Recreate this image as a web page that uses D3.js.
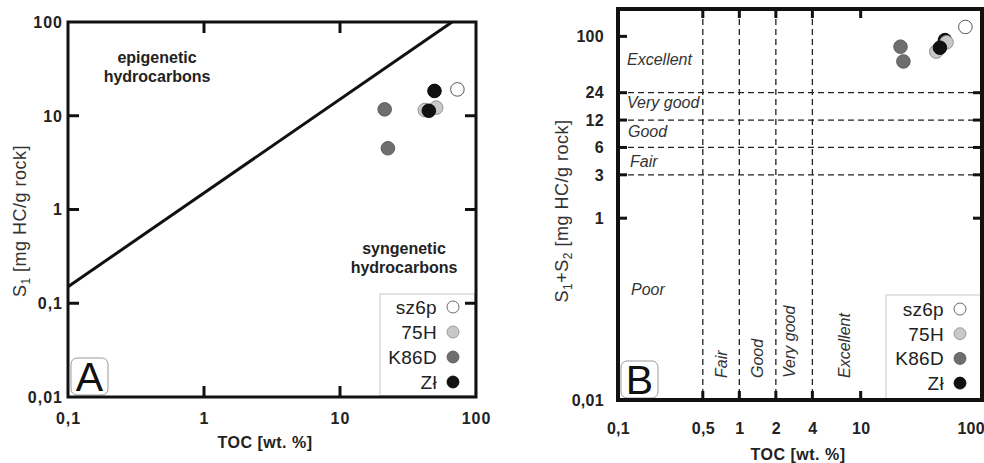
<!DOCTYPE html>
<html>
<head>
<meta charset="utf-8">
<script src="https://cdn.jsdelivr.net/npm/d3@7/dist/d3.min.js"></script>
<style>
  html, body { margin: 0; padding: 0; background: #fff; }
  svg { display: block; font-family: "Liberation Sans", Arial, sans-serif; }
</style>
</head>
<body>
<svg id="chart" width="984" height="463"></svg>
<script>
// ---- data ----
const seriesNames  = ["sz6p", "75H", "K86D", "Zł"];
const seriesFill   = ["#ffffff", "#c8c8c8", "#6e6e6e", "#111111"];
const seriesStroke = ["#444444", "#8a8a8a", "#555555", "#000000"];

// samples, in drawing order
const sampleSeries = ["sz6p", "Zł", "75H", "75H", "K86D", "K86D", "Zł"];
const sampleTOC    = [73, 49.5, 42, 51, 21.3, 22.5, 45];
const sampleS1     = [19.1, 18.4, 11.5, 12.2, 11.7, 4.5, 11.3];
const sampleS1S2   = [127, 91, 68, 86, 77, 53, 75];

// epigenetic / syngenetic boundary, S1 = 1.5 * TOC
const boundaryTOC = [0.1, 66.7];
const boundaryS1  = [0.15, 100];

// panel A axis ticks
const aXTicks = [0.1, 1, 10, 100];
const aXTickLabels = ["0,1", "1", "10", "100"];
const aYTicks = [0.01, 0.1, 1, 10, 100];
const aYTickLabels = ["0,01", "0,1", "1", "10", "100"];

// panel B axis ticks and source-rock classes
const bXTicks = [0.1, 0.5, 1, 2, 4, 10, 100];
const bXTickLabels = ["0,1", "0,5", "1", "2", "4", "10", "100"];
const bYTicks = [0.01, 1, 3, 6, 12, 24, 100];
const bYTickLabels = ["0,01", "1", "3", "6", "12", "24", "100"];
const tocLimits = [0.5, 1, 2, 4];
const hcLimits  = [3, 6, 12, 24];
const tocClassNames = ["Fair", "Good", "Very good", "Excellent"];
const hcClassNames  = ["Poor", "Fair", "Good", "Very good", "Excellent"];

// ---- drawing ----
const svg = d3.select("#chart");
const colorOf = n => seriesFill[seriesNames.indexOf(n)];
const strokeOf = n => seriesStroke[seriesNames.indexOf(n)];

function frame(g, x, y, w) {
  const [x0, x1] = x.range(), [y0, y1] = y.range();
  g.append("rect")
    .attr("x", x0).attr("y", y1).attr("width", x1 - x0).attr("height", y0 - y1)
    .attr("fill", "none").attr("stroke", "#111").attr("stroke-width", w);
}

function ticks(g, x, y, spec, len, w) {
  const [x0, x1] = x.range(), [y0, y1] = y.range();
  spec.left.forEach(v => g.append("line").attr("x1", x0).attr("x2", x0 + len)
    .attr("y1", y(v)).attr("y2", y(v)).attr("stroke", "#111").attr("stroke-width", w));
  spec.right.forEach(v => g.append("line").attr("x1", x1).attr("x2", x1 - len)
    .attr("y1", y(v)).attr("y2", y(v)).attr("stroke", "#111").attr("stroke-width", w));
  spec.top.forEach(v => g.append("line").attr("x1", x(v)).attr("x2", x(v))
    .attr("y1", y1).attr("y2", y1 + len).attr("stroke", "#111").attr("stroke-width", w));
  spec.bottom.forEach(v => g.append("line").attr("x1", x(v)).attr("x2", x(v))
    .attr("y1", y0).attr("y2", y0 - len).attr("stroke", "#111").attr("stroke-width", w));
}

function tickLabels(g, x, y, xt, xl, yt, yl, yLabelX, xLabelY, spacing) {
  const last = xt.length - 1;
  const style = sel => sel.attr("font-weight", "bold").attr("font-size", 16)
    .attr("letter-spacing", spacing).attr("fill", "#222");
  style(g.selectAll(".xl").data(xt).enter().append("text")
    .attr("x", (d, i) => i === last && x(d) > 960 ? 985 : x(d) + 0.5).attr("y", xLabelY)
    .attr("text-anchor", (d, i) => i === last && x(d) > 960 ? "end" : "middle"))
    .text((d, i) => xl[i]);
  style(g.selectAll(".yl").data(yt).enter().append("text")
    .attr("x", yLabelX).attr("y", d => y(d)).attr("dy", "0.36em")
    .attr("text-anchor", "end"))
    .text((d, i) => yl[i]);
}

function panelTag(g, x, y, letter) {
  const [x0] = x.range(), [y0] = y.range();
  g.append("rect").attr("x", x0 + 3).attr("y", y0 - 39).attr("width", 37).attr("height", 37)
    .attr("rx", 6).attr("fill", "#fff").attr("stroke", "#9a9a9a").attr("stroke-width", 1);
  g.append("text").attr("x", x0 + 21.5).attr("y", y0 - 6)
    .attr("text-anchor", "middle").attr("font-size", 41).attr("fill", "#111")
    .text(letter);
}

function legend(g, x, y, boxX, boxY, textX, markX, rowY0, rowStep) {
  const [x0, x1] = x.range(), [y0] = y.range();
  g.append("rect").attr("x", boxX).attr("y", boxY).attr("width", x1 - boxX - 1.5)
    .attr("height", y0 - boxY - 1.5).attr("fill", "#fff").attr("stroke", "#c8c8c8").attr("stroke-width", 1);
  seriesNames.forEach((n, i) => {
    const cy = rowY0 + i * rowStep;
    g.append("text").attr("x", textX).attr("y", cy).attr("dy", "0.36em")
      .attr("text-anchor", "end").attr("font-size", 19).attr("letter-spacing", 0.3)
      .attr("fill", "#222").text(n);
    g.append("circle").attr("cx", markX).attr("cy", cy).attr("r", 6)
      .attr("fill", seriesFill[i]).attr("stroke", seriesStroke[i]).attr("stroke-width", 0.8);
  });
}

function points(g, x, y, ys) {
  g.selectAll(".pt").data(sampleTOC).enter().append("circle")
    .attr("cx", d => x(d)).attr("cy", (d, i) => y(ys[i])).attr("r", 6.8)
    .attr("fill", (d, i) => colorOf(sampleSeries[i]))
    .attr("stroke", (d, i) => strokeOf(sampleSeries[i]))
    .attr("stroke-width", 0.9);
}

function axisTitle(g, x, y) {
  return g.append("text").attr("x", x).attr("y", y).attr("text-anchor", "middle")
    .attr("font-weight", "bold").attr("font-size", 16).attr("letter-spacing", 0.5)
    .attr("fill", "#222");
}

function yTitle(g, cx, cy) {
  return g.append("text").attr("transform", `translate(${cx},${cy}) rotate(-90)`)
    .attr("text-anchor", "middle").attr("font-size", 18).attr("letter-spacing", 0.5)
    .attr("fill", "#333");
}

// ---------- Panel A ----------
const xA = d3.scaleLog().domain([0.1, 100]).range([68, 476]);
const yA = d3.scaleLog().domain([0.01, 100]).range([397, 22]);
const gA = svg.append("g");

gA.append("path")
  .datum(boundaryTOC.map((t, i) => [t, boundaryS1[i]]))
  .attr("d", d3.line().x(d => xA(d[0])).y(d => yA(d[1])))
  .attr("fill", "none").attr("stroke", "#111").attr("stroke-width", 3);

gA.append("text").attr("text-anchor", "middle").attr("font-weight", "bold").attr("font-size", 16).attr("fill", "#222")
  .selectAll("tspan").data(["epigenetic", "hydrocarbons"]).enter().append("tspan")
  .attr("x", 157).attr("y", (d, i) => 63 + i * 19).text(d => d);
gA.append("text").attr("text-anchor", "middle").attr("font-weight", "bold").attr("font-size", 16).attr("fill", "#222")
  .selectAll("tspan").data(["syngenetic", "hydrocarbons"]).enter().append("tspan")
  .attr("x", 404).attr("y", (d, i) => 254 + i * 19).text(d => d);

points(gA, xA, yA, sampleS1);
legend(gA, xA, yA, 380, 294, 437, 453, 307, 25);
panelTag(gA, xA, yA, "A");
frame(gA, xA, yA, 3);
ticks(gA, xA, yA, { left: [0.1, 1, 10], right: [0.1, 1, 10], top: [1, 10], bottom: [1, 10] }, 11, 3);
tickLabels(gA, xA, yA, aXTicks, aXTickLabels, aYTicks, aYTickLabels, 63, 424, 1);

axisTitle(gA, 265, 448).text("TOC [wt. %]");
const yTitleA = yTitle(gA, 26, 221);
yTitleA.append("tspan").text("S");
yTitleA.append("tspan").attr("font-size", 12).attr("dy", 4).text("1");
yTitleA.append("tspan").attr("dy", -4).text(" [mg HC/g rock]");

// ---------- Panel B ----------
const xB = d3.scaleLog().domain([0.1, 100]).range([618, 982]);
const yB = d3.scaleLog().domain([0.01, 200]).range([400, 9]);
const gB = svg.append("g");

gB.selectAll(".vd").data(tocLimits).enter().append("line")
  .attr("x1", d => xB(d)).attr("x2", d => xB(d))
  .attr("y1", yB.range()[1]).attr("y2", yB.range()[0])
  .attr("stroke", "#222").attr("stroke-width", 1.3).attr("stroke-dasharray", "6,4");
gB.selectAll(".hd").data(hcLimits).enter().append("line")
  .attr("y1", d => yB(d)).attr("y2", d => yB(d))
  .attr("x1", xB.range()[0]).attr("x2", xB.range()[1])
  .attr("stroke", "#222").attr("stroke-width", 1.3).attr("stroke-dasharray", "6,4");

// class names along the hydrocarbon-potential axis
const hcLabelPos = [[631, 295], [630, 167], [628, 137], [627, 108], [627, 65]];
hcClassNames.forEach((n, i) => {
  gB.append("text").attr("x", hcLabelPos[i][0]).attr("y", hcLabelPos[i][1])
    .attr("font-style", "italic").attr("font-size", 16).attr("fill", "#333").text(n);
});
// class names along the TOC axis
const tocLabelX = [727, 763, 795, 850];
tocClassNames.forEach((n, i) => {
  gB.append("text").attr("transform", `translate(${tocLabelX[i]},378) rotate(-90)`)
    .attr("font-style", "italic").attr("font-size", 16).attr("fill", "#333").text(n);
});

points(gB, xB, yB, sampleS1S2);
legend(gB, xB, yB, 886, 295, 944, 960, 309, 24.7);
panelTag(gB, xB, yB, "B");
frame(gB, xB, yB, 4);
ticks(gB, xB, yB, { left: [1, 3, 6, 12, 24, 100], right: [1, 3, 6, 12, 24], top: tocLimits.concat([10]), bottom: tocLimits.concat([10]) }, 9, 3);
tickLabels(gB, xB, yB, bXTicks, bXTickLabels, bYTicks, bYTickLabels, 604, 434, 0.3);

axisTitle(gB, 798, 460).text("TOC [wt. %]");
const yTitleB = yTitle(gB, 568, 211);
yTitleB.append("tspan").text("S");
yTitleB.append("tspan").attr("font-size", 12).attr("dy", 4).text("1");
yTitleB.append("tspan").attr("dy", -4).text("+S");
yTitleB.append("tspan").attr("font-size", 12).attr("dy", 4).text("2");
yTitleB.append("tspan").attr("dy", -4).text(" [mg HC/g rock]");
</script>
</body>
</html>
